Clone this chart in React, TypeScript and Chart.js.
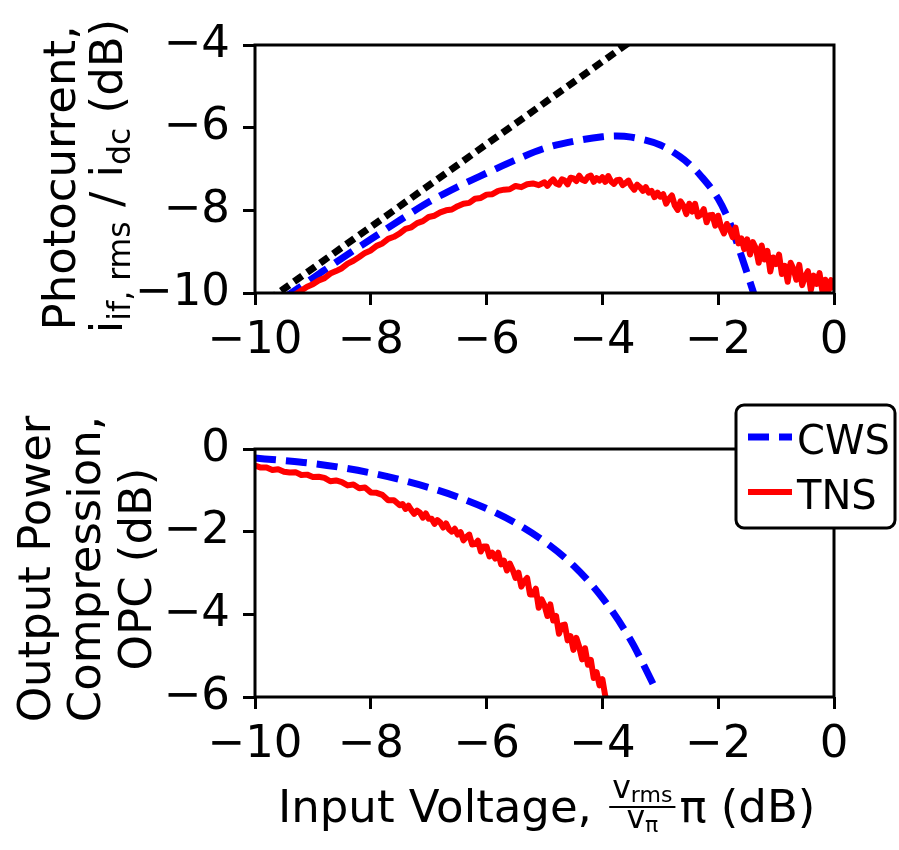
import React, { useEffect, useRef } from 'react';
import { Chart, registerables } from 'chart.js';

Chart.register(...registerables);

const FONT = '"DejaVu Sans", sans-serif';

// ---- tick values ----
const xTicks = [-10, -8, -6, -4, -2, 0];
const topYTicks = [-10, -8, -6, -4];
const bottomYTicks = [-6, -4, -2, 0];

// ---- top panel: photocurrent ----
const idealX = [-10, -3];
const idealY = [-10.4, -3.4];

const cwsTopX = [-9.5, -9.0, -8.5, -8.0, -7.5, -7.0, -6.5, -6.0, -5.5, -5.0, -4.5, -4.0, -3.75, -3.5, -3.0, -2.66, -2.5, -2.31, -2.0, -1.8, -1.6, -1.4, -1.3];
const cwsTopY = [-10.12, -9.64, -9.16, -8.7, -8.24, -7.8, -7.43, -7.1, -6.78, -6.5, -6.33, -6.22, -6.2, -6.23, -6.42, -6.7, -6.88, -7.15, -7.72, -8.3, -9.1, -9.95, -10.4];

const tnsTopX = [
  -9.3, -9.2, -9.1, -9.0, -8.9, -8.8, -8.7, -8.6, -8.5, -8.4, -8.3, -8.2, -8.1, -8.0, -7.9, -7.8, -7.7, -7.6, -7.5, -7.4,
  -7.3, -7.2, -7.1, -7.0, -6.9, -6.8, -6.7, -6.6, -6.5, -6.4, -6.3, -6.2, -6.1, -6.0, -5.9, -5.8, -5.7, -5.6, -5.5, -5.4,
  -5.3, -5.2, -5.1,
  -5.0, -4.95, -4.9, -4.85, -4.8, -4.75, -4.7, -4.65, -4.6, -4.55, -4.5, -4.45, -4.4, -4.35, -4.3, -4.25, -4.2, -4.15, -4.1, -4.05,
  -4.0, -3.95, -3.9, -3.85, -3.8, -3.75, -3.7, -3.65, -3.6, -3.55, -3.5, -3.45, -3.4, -3.35, -3.3, -3.25, -3.2, -3.15, -3.1, -3.05,
  -3.0, -2.95, -2.9, -2.85, -2.8, -2.75, -2.7, -2.65, -2.6, -2.55, -2.5, -2.45, -2.4, -2.35, -2.3, -2.25, -2.2, -2.15, -2.1, -2.05,
  -2.0, -1.95, -1.9, -1.85, -1.8, -1.75, -1.7, -1.65, -1.6, -1.55, -1.5, -1.45, -1.4, -1.35, -1.3, -1.25, -1.2, -1.15, -1.1, -1.05,
  -1.0, -0.95, -0.9, -0.85, -0.8, -0.75, -0.7, -0.65, -0.6, -0.55, -0.5, -0.45, -0.4, -0.35, -0.3, -0.25, -0.2, -0.15, -0.1, -0.05,
  0.0,
];
const tnsTopY = [
  -10.03, -9.94, -9.85, -9.79, -9.7, -9.64, -9.53, -9.47, -9.4, -9.29, -9.22, -9.13, -9.03, -8.97, -8.86, -8.8, -8.69, -8.64, -8.56, -8.45,
  -8.41, -8.31, -8.26, -8.16, -8.13, -8.05, -8.0, -7.98, -7.9, -7.84, -7.82, -7.72, -7.7, -7.62, -7.61, -7.53, -7.5, -7.49, -7.41, -7.44,
  -7.37, -7.35, -7.39,
  -7.32, -7.41, -7.32, -7.25, -7.35, -7.38, -7.25, -7.28, -7.37, -7.21, -7.23, -7.29, -7.16, -7.26, -7.29, -7.19, -7.16, -7.31, -7.22, -7.28,
  -7.2, -7.31, -7.17, -7.3, -7.36, -7.27, -7.26, -7.39, -7.34, -7.28, -7.42, -7.5, -7.38, -7.44, -7.53, -7.44, -7.57, -7.53, -7.68, -7.57,
  -7.67, -7.61, -7.84, -7.72, -7.64, -7.88, -7.99, -7.78, -7.89, -8.09, -7.84, -8.03, -7.84, -8.15, -8.1, -7.97, -8.29, -8.12, -8.11, -8.37,
  -8.13, -8.41, -8.56, -8.33, -8.47, -8.65, -8.42, -8.8, -8.68, -8.94, -8.7, -9.07, -8.77, -8.92, -9.27, -8.85, -9.19, -8.98, -9.48, -9.14,
  -9.3, -9.07, -9.54, -9.34, -9.73, -9.27, -9.42, -9.68, -9.32, -9.81, -9.6, -9.47, -9.93, -9.58, -9.78, -9.52, -9.96, -9.68, -9.95, -9.69,
  -9.93,
];

// ---- bottom panel: output power compression ----
const cwsOpcX = [-10, -9.5, -9, -8.5, -8, -7.5, -7, -6.5, -6, -5.5, -5, -4.5, -4, -3.5, -3.25, -3.05];
const cwsOpcY = [-0.22, -0.28, -0.35, -0.45, -0.58, -0.74, -0.93, -1.16, -1.44, -1.79, -2.24, -2.82, -3.6, -4.65, -5.33, -5.9];

const tnsOpcX = [
  -10.0, -9.9, -9.8, -9.7, -9.6, -9.5, -9.4, -9.3, -9.2, -9.1, -9.0, -8.9, -8.8, -8.7, -8.6, -8.5, -8.4, -8.3, -8.2, -8.1,
  -8.0, -7.9, -7.8, -7.7, -7.6, -7.5,
  -7.45, -7.4, -7.35, -7.3, -7.25, -7.2, -7.15, -7.1, -7.05, -7.0, -6.95, -6.9, -6.85, -6.8, -6.75, -6.7, -6.65, -6.6, -6.55, -6.5,
  -6.45, -6.4, -6.35, -6.3, -6.25, -6.2, -6.15, -6.1, -6.05, -6.0, -5.95, -5.9, -5.85, -5.8, -5.75, -5.7, -5.65, -5.6, -5.55, -5.5,
  -5.45, -5.4, -5.35, -5.3, -5.25, -5.2, -5.15, -5.1, -5.05, -5.0, -4.95, -4.9, -4.85, -4.8, -4.75, -4.7, -4.65, -4.6, -4.55, -4.5,
  -4.45, -4.4, -4.35, -4.3, -4.25, -4.2, -4.15, -4.1, -4.05, -4.0, -3.95, -3.9,
];
const tnsOpcY = [
  -0.4, -0.45, -0.45, -0.51, -0.49, -0.55, -0.57, -0.56, -0.63, -0.62, -0.68, -0.67, -0.7, -0.78, -0.76, -0.8, -0.88, -0.86, -0.95, -0.93,
  -1.05, -1.06, -1.11, -1.24, -1.24, -1.36,
  -1.33, -1.45, -1.37, -1.48, -1.57, -1.49, -1.54, -1.66, -1.56, -1.69, -1.69, -1.81, -1.72, -1.78, -1.9, -1.8, -1.94, -2.0, -1.93, -2.07,
  -2.01, -2.21, -2.13, -2.07, -2.31, -2.3, -2.22, -2.48, -2.36, -2.36, -2.6, -2.51, -2.65, -2.51, -2.79, -2.7, -2.94, -2.77, -2.92, -3.12,
  -2.99, -3.33, -3.2, -3.12, -3.52, -3.52, -3.38, -3.84, -3.64, -3.78, -4.04, -3.76, -4.15, -4.04, -4.47, -4.27, -4.25, -4.63, -4.53, -4.86,
  -4.57, -4.79, -5.09, -4.82, -5.22, -5.1, -5.54, -5.4, -5.72, -5.57, -5.98, -6.1,
];

const legendLabels = ['CWS', 'TNS'];

const BLUE = '#0000ff';
const RED = '#ff0000';
const BLACK = '#000000';

function pts(xs: number[], ys: number[]) {
  return xs.map((x, i) => ({ x, y: ys[i] }));
}

function fmt(v: number) {
  return v < 0 ? '\u2212' + Math.abs(v) : String(v);
}

type Run = { text: string; size: number; dy?: number };

function measureRuns(ctx: CanvasRenderingContext2D, runs: Run[]) {
  let w = 0;
  for (const r of runs) {
    ctx.font = `${r.size}px ${FONT}`;
    w += ctx.measureText(r.text).width;
  }
  return w;
}

function drawRuns(ctx: CanvasRenderingContext2D, runs: Run[], x: number, y: number) {
  let cx = x;
  ctx.textAlign = 'left';
  for (const r of runs) {
    ctx.font = `${r.size}px ${FONT}`;
    ctx.fillText(r.text, cx, y + (r.dy || 0));
    cx += ctx.measureText(r.text).width;
  }
  return cx - x;
}

const framePlugin = {
  id: 'frame',
  afterDatasetsDraw(chart: any) {
    const { ctx, chartArea } = chart;
    ctx.save();
    ctx.strokeStyle = BLACK;
    ctx.lineWidth = 3;
    ctx.strokeRect(chartArea.left, chartArea.top, chartArea.right - chartArea.left, chartArea.bottom - chartArea.top);
    ctx.restore();
  },
};

function axisOptions(min: number, max: number, ticks: number[], fit: (s: any) => void, padding: number) {
  return {
    type: 'linear',
    min,
    max,
    afterBuildTicks: (s: any) => {
      s.ticks = ticks.map((v) => ({ value: v }));
    },
    afterFit: fit,
    grid: {
      drawOnChartArea: false,
      drawTicks: true,
      tickLength: 12,
      tickWidth: 3,
      tickColor: BLACK,
      color: BLACK,
    },
    border: { display: false },
    ticks: {
      autoSkip: false,
      maxRotation: 0,
      padding,
      color: BLACK,
      font: { family: FONT, size: 45 },
      callback: (v: any) => fmt(Number(v)),
    },
  };
}

const topTitlePlugin = {
  id: 'topTitle',
  afterDraw(chart: any) {
    const ctx: CanvasRenderingContext2D = chart.ctx;
    ctx.save();
    ctx.fillStyle = BLACK;
    ctx.textBaseline = 'alphabetic';
    ctx.translate(75, 178);
    ctx.rotate(-Math.PI / 2);
    ctx.font = `45px ${FONT}`;
    ctx.textAlign = 'center';
    ctx.fillText('Photocurrent,', 0, 0);
    ctx.restore();

    ctx.save();
    ctx.fillStyle = BLACK;
    ctx.textBaseline = 'alphabetic';
    ctx.translate(122, 176);
    ctx.rotate(-Math.PI / 2);
    const runs: Run[] = [
      { text: 'i', size: 45 },
      { text: 'if, rms', size: 31.5, dy: 8 },
      { text: ' / i', size: 45 },
      { text: 'dc', size: 31.5, dy: 8 },
      { text: ' (dB)', size: 45 },
    ];
    const w = measureRuns(ctx, runs);
    drawRuns(ctx, runs, -w / 2, 0);
    ctx.restore();
  },
};

const bottomTitlePlugin = {
  id: 'bottomTitle',
  afterDraw(chart: any) {
    const ctx: CanvasRenderingContext2D = chart.ctx;
    // y title (3 lines), canvas offset 380
    const lines = ['Output Power', 'Compression,', 'OPC (dB)'];
    const bx = [50, 100, 151];
    lines.forEach((t, i) => {
      ctx.save();
      ctx.fillStyle = BLACK;
      ctx.textBaseline = 'alphabetic';
      ctx.translate(bx[i], 189);
      ctx.rotate(-Math.PI / 2);
      ctx.font = `45px ${FONT}`;
      ctx.textAlign = 'center';
      ctx.fillText(t, 0, 0);
      ctx.restore();
    });

    // x title
    ctx.save();
    ctx.fillStyle = BLACK;
    ctx.textBaseline = 'alphabetic';
    const base = 442;
    let x = 278;
    x += drawRuns(ctx, [{ text: 'Input Voltage, ', size: 45 }], x, base);
    x += 3;
    const num: Run[] = [
      { text: 'v', size: 31.5 },
      { text: 'rms', size: 22, dy: 4 },
    ];
    const den: Run[] = [
      { text: 'v', size: 31.5 },
      { text: '\u03c0', size: 22, dy: 4 },
    ];
    const nw = measureRuns(ctx, num);
    const dw = measureRuns(ctx, den);
    const fw = Math.max(nw, dw) + 6;
    const barY = base - 15;
    ctx.fillRect(x, barY - 1, fw, 2);
    drawRuns(ctx, num, x + (fw - nw) / 2, barY - 9);
    drawRuns(ctx, den, x + (fw - dw) / 2, barY + 21);
    x += fw + 4;
    drawRuns(ctx, [{ text: '\u03c0 (dB)', size: 45 }], x, base);
    ctx.restore();

    // legend
    const ds = chart.data.datasets;
    ctx.save();
    const lx = 736, ly = 25, lw = 159, lh = 123, r = 8;
    ctx.beginPath();
    ctx.moveTo(lx + r, ly);
    ctx.lineTo(lx + lw - r, ly);
    ctx.arcTo(lx + lw, ly, lx + lw, ly + r, r);
    ctx.lineTo(lx + lw, ly + lh - r);
    ctx.arcTo(lx + lw, ly + lh, lx + lw - r, ly + lh, r);
    ctx.lineTo(lx + r, ly + lh);
    ctx.arcTo(lx, ly + lh, lx, ly + lh - r, r);
    ctx.lineTo(lx, ly + r);
    ctx.arcTo(lx, ly, lx + r, ly, r);
    ctx.closePath();
    ctx.fillStyle = '#ffffff';
    ctx.fill();
    ctx.strokeStyle = BLACK;
    ctx.lineWidth = 3;
    ctx.stroke();

    const rows = [57, 112];
    legendLabels.forEach((label, i) => {
      const d = ds.find((q: any) => q.label === label);
      if (!d) return;
      ctx.save();
      ctx.strokeStyle = d.borderColor;
      ctx.lineWidth = d.borderWidth;
      ctx.setLineDash(d.borderDash || []);
      ctx.lineCap = 'butt';
      ctx.beginPath();
      ctx.moveTo(748, rows[i]);
      ctx.lineTo(792, rows[i]);
      ctx.stroke();
      ctx.restore();
      ctx.fillStyle = BLACK;
      ctx.font = `40px ${FONT}`;
      ctx.textAlign = 'left';
      ctx.textBaseline = 'alphabetic';
      ctx.fillText(label, 797, rows[i] + 17);
    });
    ctx.restore();
  },
};

export default function App() {
  const topRef = useRef<HTMLCanvasElement | null>(null);
  const botRef = useRef<HTMLCanvasElement | null>(null);

  useEffect(() => {
    const common = {
      responsive: false,
      animation: false,
      devicePixelRatio: 1,
      events: [],
    };

    const top = new Chart(topRef.current!, {
      type: 'line',
      data: {
        datasets: [
          {
            label: 'TNS',
            data: pts(tnsTopX, tnsTopY),
            borderColor: RED,
            borderWidth: 6,
            pointRadius: 0,
            tension: 0,
            borderJoinStyle: 'round',
            clip: 0,
          },
          {
            label: 'CWS',
            data: pts(cwsTopX, cwsTopY),
            borderColor: BLUE,
            borderWidth: 7,
            borderDash: [21, 10],
            pointRadius: 0,
            cubicInterpolationMode: 'monotone',
            clip: 0,
          },
          {
            label: 'ideal',
            data: pts(idealX, idealY),
            borderColor: BLACK,
            borderWidth: 7,
            borderDash: [10, 6],
            pointRadius: 0,
            clip: 0,
          },
        ],
      },
      options: {
        ...common,
        layout: { padding: { left: 0, right: 65, top: 45, bottom: 0 } },
        plugins: { legend: { display: false }, tooltip: { enabled: false } },
        scales: {
          x: axisOptions(-10, 0, xTicks, (s: any) => { s.height = 87; }, 9),
          y: axisOptions(-10, -4, topYTicks, (s: any) => { s.width = 255; }, 13),
        },
      } as any,
      plugins: [framePlugin, topTitlePlugin],
    } as any);

    const bottom = new Chart(botRef.current!, {
      type: 'line',
      data: {
        datasets: [
          {
            label: 'CWS',
            data: pts(cwsOpcX, cwsOpcY),
            borderColor: BLUE,
            borderWidth: 7,
            borderDash: [21, 10],
            pointRadius: 0,
            cubicInterpolationMode: 'monotone',
            clip: 0,
          },
          {
            label: 'TNS',
            data: pts(tnsOpcX, tnsOpcY),
            borderColor: RED,
            borderWidth: 6,
            pointRadius: 0,
            tension: 0,
            borderJoinStyle: 'round',
            clip: 0,
          },
        ],
      },
      options: {
        ...common,
        layout: { padding: { left: 0, right: 65, top: 69, bottom: 0 } },
        plugins: { legend: { display: false }, tooltip: { enabled: false } },
        scales: {
          x: axisOptions(-10, 0, xTicks, (s: any) => { s.height = 153; }, 9),
          y: axisOptions(-6, 0, bottomYTicks, (s: any) => { s.width = 255; }, 13),
        },
      } as any,
      plugins: [framePlugin, bottomTitlePlugin],
    } as any);

    return () => {
      top.destroy();
      bottom.destroy();
    };
  }, []);

  return (
    <div style={{ position: 'absolute', left: 0, top: 0, width: 899, height: 850, background: '#ffffff' }}>
      <canvas ref={topRef} width={899} height={380} style={{ position: 'absolute', left: 0, top: 0, display: 'block' }} />
      <canvas ref={botRef} width={899} height={470} style={{ position: 'absolute', left: 0, top: 380, display: 'block' }} />
    </div>
  );
}
